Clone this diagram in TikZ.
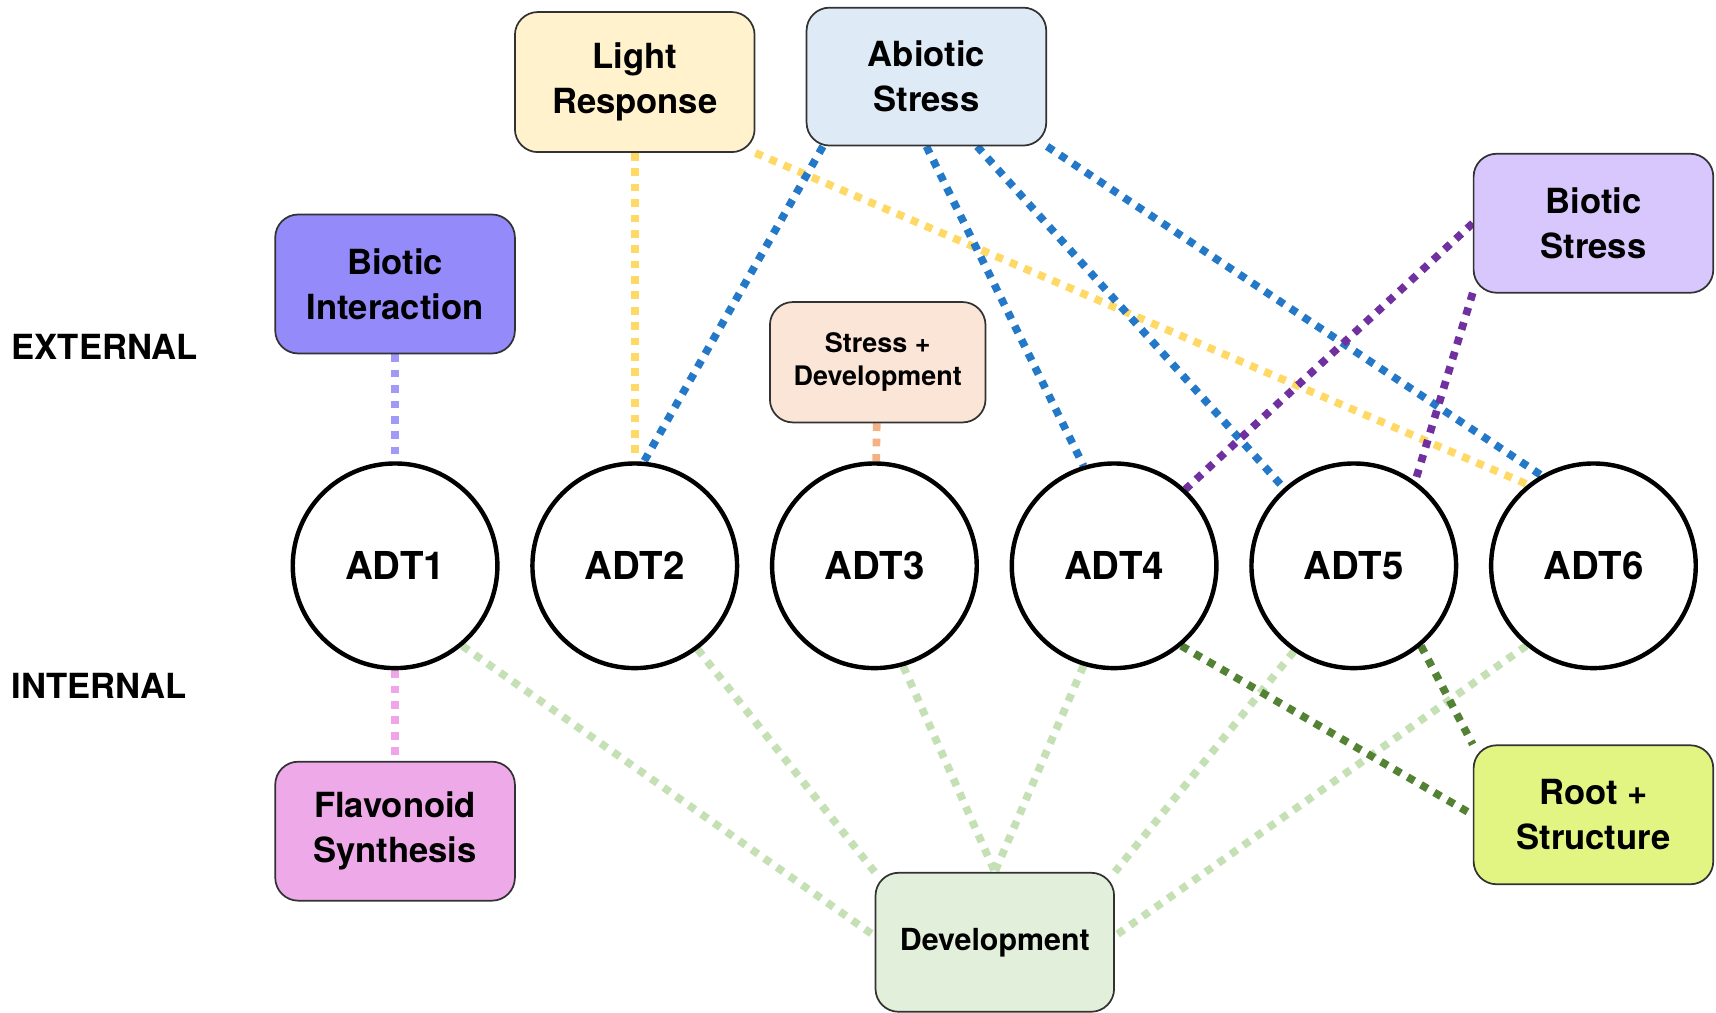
\documentclass[tikz,border=0pt]{standalone}
\usepackage{fontspec}
\setmainfont{TeX Gyre Heros}
\usetikzlibrary{positioning,backgrounds}

\definecolor{boxline}{RGB}{50,50,50}
\definecolor{bintfill}{RGB}{148,138,250}
\definecolor{lightfill}{RGB}{255,242,204}
\definecolor{abiofill}{RGB}{222,234,246}
\definecolor{sdevfill}{RGB}{251,229,214}
\definecolor{bstrfill}{RGB}{216,199,252}
\definecolor{flavfill}{RGB}{238,170,232}
\definecolor{devfill}{RGB}{226,239,218}
\definecolor{rootfill}{RGB}{226,245,130}
\definecolor{bintline}{RGB}{160,153,248}
\definecolor{lightline}{RGB}{255,217,102}
\definecolor{abioline}{RGB}{35,121,200}
\definecolor{sdevline}{RGB}{244,177,131}
\definecolor{bstrline}{RGB}{112,48,160}
\definecolor{flavline}{RGB}{239,165,232}
\definecolor{devline}{RGB}{197,224,180}
\definecolor{rootline}{RGB}{84,130,53}

\begin{document}
\begin{tikzpicture}[node distance = 4.38cm, thick,
    adt/.style = {circle, draw=black, line width=2.3pt, fill=white, minimum size=3.74cm,
                  font=\fontsize{20}{22}\selectfont\bfseries},
    box/.style = {rectangle, rounded corners=0.42cm, draw=boxline, line width=0.9pt,
                  minimum width=4.38cm, minimum height=2.54cm, align=center,
                  font=\fontsize{18}{23.5}\selectfont\bfseries},
    side/.style = {anchor=west, inner sep=0pt, font=\fontsize{18}{22}\selectfont\bfseries},
    link/.style = {line width=4pt, dash pattern=on 4pt off 4pt}]
  \useasboundingbox (0,0) rectangle (31.36,18.5);

  \node[side] at (0.2, 12.16) (ext) {EXTERNAL};
  \node[side] at (0.2, 5.96) (int) {INTERNAL};

  \node[adt] at (7.22, 8.16) (adt1) {ADT1};
  \node[adt, right of=adt1] (adt2) {ADT2};
  \node[adt, right of=adt2] (adt3) {ADT3};
  \node[adt, right of=adt3] (adt4) {ADT4};
  \node[adt, right of=adt4] (adt5) {ADT5};
  \node[adt, right of=adt5] (adt6) {ADT6};

  \node[box, fill=bintfill, above of=adt1, node distance=5.15cm] (bint) {Biotic\\Interaction};
  \node[box, fill=lightfill, above of=adt2, node distance=8.84cm, minimum height=2.56cm] (light) {Light\\Response};
  \node[box, fill=abiofill, minimum height=2.52cm] at (16.93, 17.1) (abio) {Abiotic\\Stress};
  \node[box, fill=sdevfill, above of=adt3, node distance=3.72cm, xshift=0.06cm, minimum width=3.94cm,
        minimum height=2.2cm, font=\fontsize{14}{17}\selectfont\bfseries] (sdev) {Stress +\\Development};
  \node[box, fill=bstrfill, above of=adt6, node distance=6.26cm] (bstr) {Biotic\\Stress};

  \node[box, fill=flavfill, below of=adt1, node distance=4.85cm] (flav) {Flavonoid\\Synthesis};
  \node[box, fill=devfill, minimum width=4.36cm, font=\fontsize{15.8}{19}\selectfont\bfseries]
        at (18.18, 1.28) (dev) {Development};
  \node[box, fill=rootfill, below of=adt6, node distance=4.55cm] (root) {Root +\\Structure};

  \begin{pgfonlayer}{background}
    % external
    \draw[link, bintline] (bint) -- (adt1);
    \draw[link, lightline] (light) -- (adt2);
    \draw[link, lightline] (light.south east) -- (adt6.129);
    \draw[link, abioline] (abio.214) -- (adt2.85);
    \draw[link, abioline] (abio.south) -- (adt4.107);
    \draw[link, abioline] (abio.-54) -- (adt5.132);
    \draw[link, abioline] (abio.south east) -- (adt6.120);
    \draw[link, sdevline] (sdev) -- (adt3);
    \draw[link, bstrline] (bstr.west) -- (adt4.47);
    \draw[link, bstrline] (bstr.-150) -- (adt5.54);
    % internal
    \draw[link, flavline] (adt1) -- (flav);
    \draw[link, devline] (adt1.-50) -- (dev.177);
    \draw[link, devline] (adt2.-53) -- (dev.north west);
    \draw[link, devline] (adt3.-74) -- (dev.north);
    \draw[link, devline] (adt4.-107) -- (dev.north);
    \draw[link, devline] (adt5.-125) -- (dev.north east);
    \draw[link, devline] (adt6.-130) -- (dev.3);
    \draw[link, rootline] (adt4.-50) -- (root.west);
    \draw[link, rootline] (adt5.-50) -- (root.north west);
  \end{pgfonlayer}
\end{tikzpicture}
\end{document}
